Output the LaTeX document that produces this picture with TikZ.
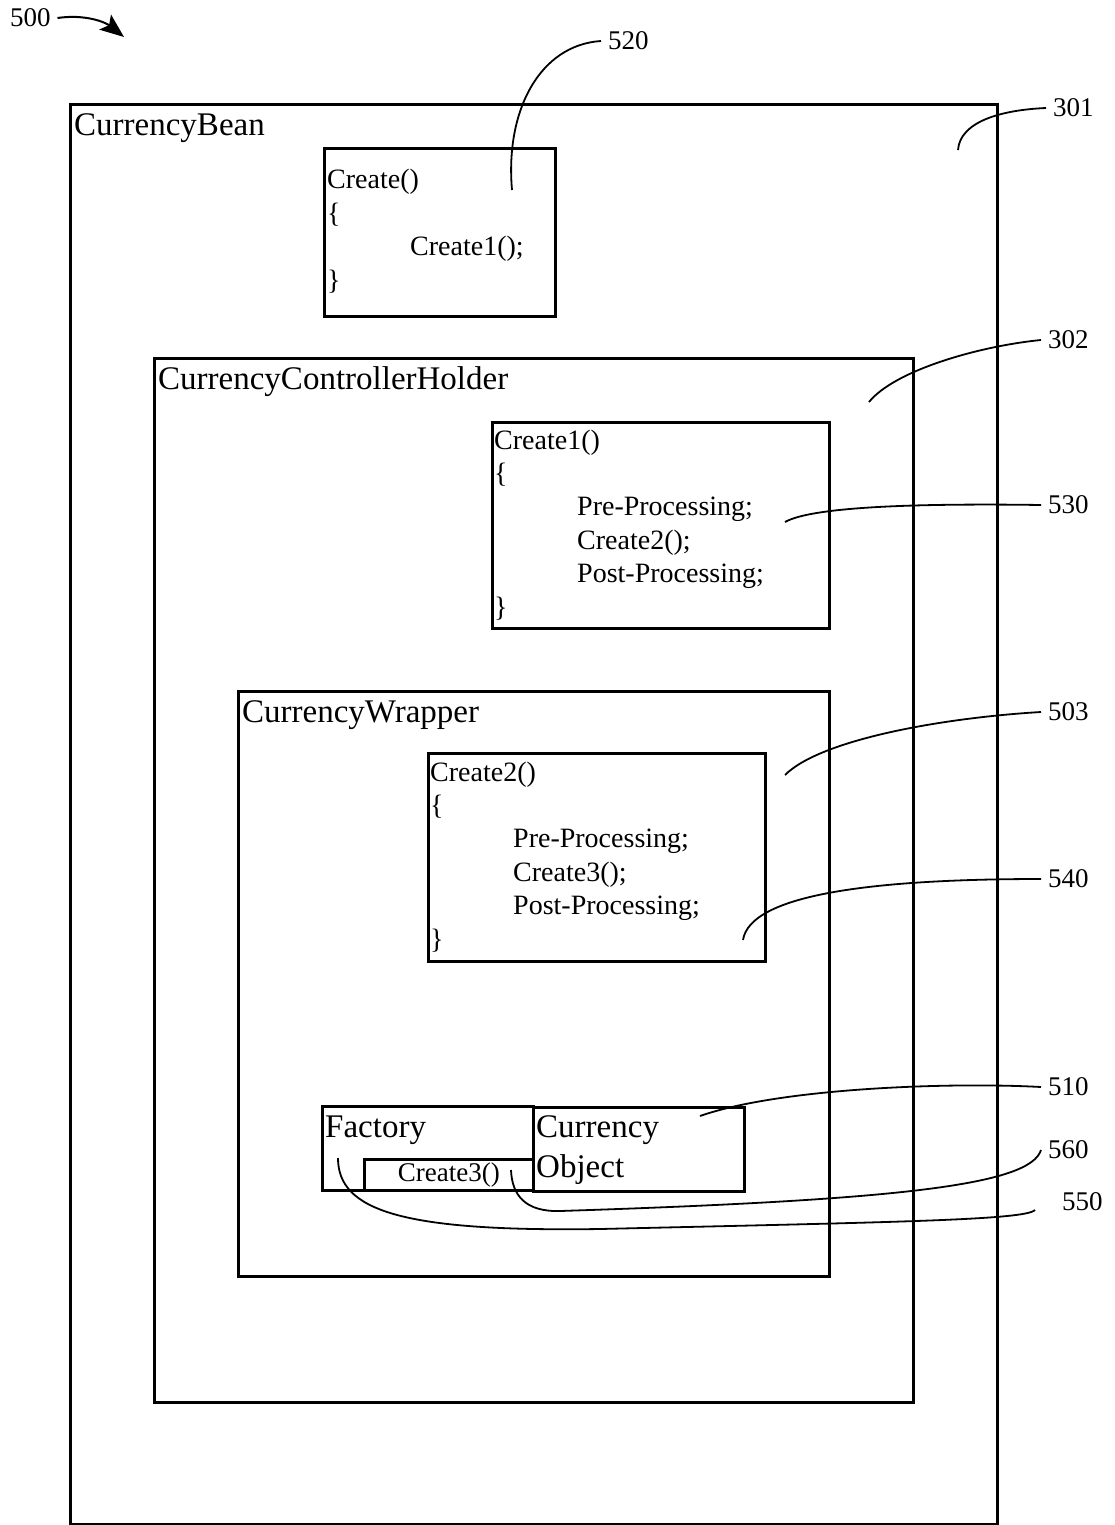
\documentclass[tikz,border=0pt]{standalone}
\usepackage{fontspec}
\setmainfont{Liberation Serif}
\usetikzlibrary{arrows.meta}
\newcommand{\ind}{\hspace*{83pt}}
\begin{document}
\begin{tikzpicture}[x=1pt, y=-1pt,
  box/.style = {draw, line width=2.8pt, inner sep=0pt, anchor=north west},
  title/.style = {inner sep=0pt, anchor=base west, align=left, font=\fontsize{33}{40}\selectfont},
  code/.style = {inner sep=0pt, anchor=base west, align=left, font=\fontsize{28}{33.4}\selectfont},
  num/.style = {inner sep=0pt, outer sep=7pt, anchor=west, font=\fontsize{27}{32}\selectfont},
  lead/.style = {line width=1.8pt}]
\useasboundingbox (0,0) rectangle (1114,1525);
\node[box, minimum width=927pt, minimum height=1420pt] (bean) at (69,103) {};
\node[box, minimum width=231pt, minimum height=168pt] (createbox) at (323,147) {};
\node[box, minimum width=759pt, minimum height=1044pt] (holder) at (153,357) {};
\node[box, minimum width=337pt, minimum height=206pt] (create1box) at (491,421) {};
\node[box, minimum width=591pt, minimum height=585pt] (wrapper) at (237,690) {};
\node[box, minimum width=337pt, minimum height=208pt] (create2box) at (427,752) {};
\node[box, minimum width=211pt, minimum height=84pt] (factory) at (321,1105) {};
\node[box, minimum width=169pt, minimum height=31pt, font=\fontsize{27}{32}\selectfont] (create3) at (363,1158) {Create3()};
\node[box, minimum width=211pt, minimum height=84pt] (currency) at (532,1106) {};

\node[title] (beanname) at (74,136) {CurrencyBean};
\node[title] (holdername) at (158,389) {CurrencyControllerHolder};
\node[title] (wrappername) at (242,722) {CurrencyWrapper};
\node[title] (factoryname) at (325,1137) {Factory};
\node[title] (currencyname) at (536,1177) {Currency\\Object};
\node[code] (createtxt) at (327,289) {Create()\\\{\\\ind Create1();\\\}};
\node[code] (create1txt) at (494,616) {Create1()\\\{\\\ind Pre-Processing;\\\ind Create2();\\\ind Post-Processing;\\\}};
\node[code] (create2txt) at (430,948) {Create2()\\\{\\\ind Pre-Processing;\\\ind Create3();\\\ind Post-Processing;\\\}};

\node[num] (l500) at (3,18) {500};
\node[num] (l520) at (601,41) {520};
\node[num] (l301) at (1046,108) {301};
\node[num] (l302) at (1041,340) {302};
\node[num] (l530) at (1041,505) {530};
\node[num] (l503) at (1041,712) {503};
\node[num] (l540) at (1041,879) {540};
\node[num] (l510) at (1041,1087) {510};
\node[num] (l560) at (1041,1150) {560};
\node[num] (l550) at (1055,1202) {550};

\coordinate (p500) at (124,37);
\coordinate (p520) at (512,190);
\coordinate (p301) at (958,150);
\coordinate (p302) at (869,402);
\coordinate (p530) at (785,522);
\coordinate (p503) at (785,775);
\coordinate (p540) at (743,940);
\coordinate (p510) at (700,1116);
\coordinate (p560) at (511,1170);
\coordinate (p550) at (338,1158);

\draw[lead, line width=2pt, -{Stealth[length=24pt, width=19pt, inset=5pt]}] (l500.east) .. controls (85,14) and (105,22) .. (p500);
\draw[lead] (l520.west) .. controls (540,45) and (505,110) .. (p520);
\draw[lead] (l301.west) .. controls (1000,110) and (960,122) .. (p301);
\draw[lead] (l302.west) .. controls (980,346) and (895,370) .. (p302);
\draw[lead] (l530.west) .. controls (900,503) and (810,508) .. (p530);
\draw[lead] (l503.west) .. controls (940,718) and (820,740) .. (p503);
\draw[lead] (l540.west) .. controls (870,879) and (750,895) .. (p540);
\draw[lead] (l510.west) .. controls (950,1082) and (780,1088) .. (p510);
\draw[lead] (l560.west) .. controls (1030,1185) and (900,1200) .. (560,1211) .. controls (525,1212) and (512,1195) .. (p560);
\draw[lead] ([shift={(-20,8)}]l550.west) .. controls (1025,1220) and (900,1222) .. (600,1229) .. controls (400,1232) and (338,1210) .. (p550);
\end{tikzpicture}
\end{document}
